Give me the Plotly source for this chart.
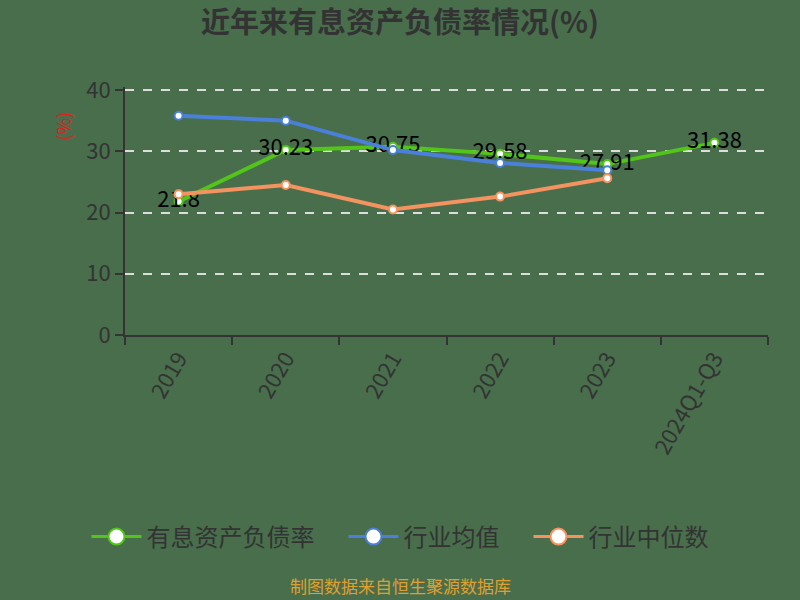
import plotly.graph_objects as go

years = ["2019", "2020", "2021", "2022", "2023", "2024Q1-Q3"]
debt_ratio = [21.8, 30.23, 30.75, 29.58, 27.91, 31.38]
industry_avg = [35.8, 35.0, 30.2, 28.1, 26.9]
industry_median = [23.0, 24.5, 20.5, 22.6, 25.6]

bg = "#486E4C"
green, blue, orange = "#52C41A", "#4A80D9", "#F4935F"

fig = go.Figure()

fig.add_trace(go.Scatter(
    x=years, y=debt_ratio, name="有息资产负债率", showlegend=False,
    mode="lines+markers+text",
    text=[str(v) for v in debt_ratio], textposition="middle center",
    textfont=dict(size=22, color="#000000"),
    line=dict(color=green, width=4),
    marker=dict(size=8, color="white", line=dict(color=green, width=2)),
))
fig.add_trace(go.Scatter(
    x=years[:5], y=industry_avg, name="行业均值", showlegend=False,
    mode="lines+markers",
    line=dict(color=blue, width=4),
    marker=dict(size=8, color="white", line=dict(color=blue, width=2)),
))
fig.add_trace(go.Scatter(
    x=years[:5], y=industry_median, name="行业中位数", showlegend=False,
    mode="lines+markers",
    line=dict(color=orange, width=4),
    marker=dict(size=8, color="white", line=dict(color=orange, width=2)),
))

# legend entries with bigger symbols
for name, c in [("有息资产负债率　", green), ("行业均值　", blue), ("行业中位数", orange)]:
    fig.add_trace(go.Scatter(
        x=[None], y=[None], name=name, mode="lines+markers",
        line=dict(color=c, width=3),
        marker=dict(size=18, color="white", line=dict(color=c, width=2)),
    ))

fig.update_layout(
    width=800, height=600,
    paper_bgcolor=bg, plot_bgcolor=bg,
    margin=dict(l=125, r=32, t=87, b=265),
    font=dict(family="Noto Sans CJK SC", color="#333333"),
    title=dict(text="<b>近年来有息资产负债率情况(%)</b>", x=0.5, xanchor="center",
               y=0.962, yanchor="middle", font=dict(size=29, color="#333333")),
    showlegend=True,
    legend=dict(orientation="h", xref="container", yref="container",
                x=0.5, xanchor="center", y=0.105, yanchor="middle",
                font=dict(size=24, color="#333333"), itemwidth=50,
                itemsizing="trace"),
)

fig.update_xaxes(
    type="category", range=[-0.5, 5.5], showgrid=False,
    showline=True, linecolor="#333333", linewidth=2,
    ticks="outside", ticklen=8, tickcolor="#333333", tickwidth=2,
    tickson="boundaries", tickangle=-60,
    tickfont=dict(size=22, color="#333333"),
)
fig.update_yaxes(
    range=[0, 40.5], tickvals=[0, 10, 20, 30, 40],
    showgrid=True, gridcolor="#DDDDDD", griddash="dash", gridwidth=1.5,
    showline=True, linecolor="#333333", linewidth=2,
    ticks="outside", ticklen=8, tickcolor="#333333", tickwidth=2,
    tickfont=dict(size=22, color="#333333"), zeroline=False,
)

fig.add_annotation(text="(%)", xref="paper", yref="paper", x=-0.097, y=0.843,
                   xanchor="center", yanchor="middle",
                   textangle=-90, showarrow=False,
                   font=dict(size=18, color="#E02020"))
fig.add_annotation(text="制图数据来自恒生聚源数据库", xref="paper", yref="paper",
                   x=0.428, y=-1.012, xanchor="center", yanchor="middle",
                   showarrow=False,
                   font=dict(size=17, color="#E0A030"))

fig.write_html("out.html", config={"displayModeBar": False},
               post_script="document.body.style.margin='0';")
